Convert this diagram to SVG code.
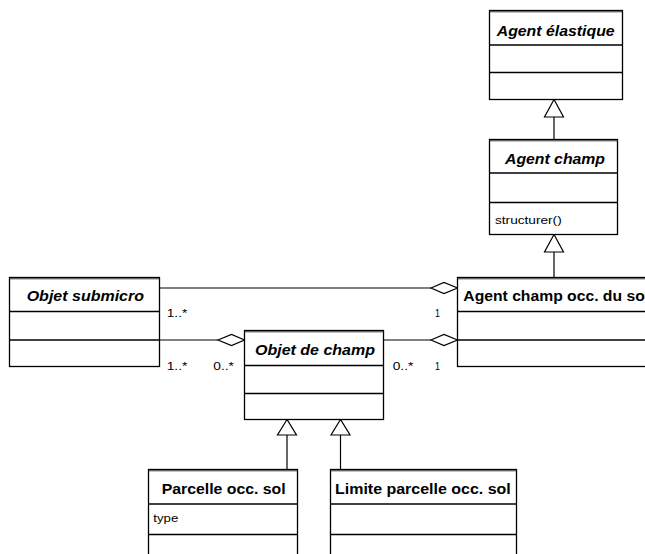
<svg xmlns="http://www.w3.org/2000/svg" width="645" height="554" viewBox="0 0 645 554">
<style>
.box{fill:#fff;stroke:#000;stroke-width:1.3}
.sep{stroke:#000;stroke-width:1.3}
.topl{stroke:#333;stroke-width:1}
.t{font-family:"Liberation Sans",Arial,sans-serif;font-size:14px;font-weight:bold;fill:#000}
.ti{font-family:"Liberation Sans",Arial,sans-serif;font-size:14px;font-weight:bold;font-style:italic;fill:#000}
.a{font-family:"Liberation Sans",Arial,sans-serif;font-size:11.5px;fill:#000}
.ln{stroke:#000;stroke-width:1.2;fill:none}
.tri{fill:#fff;stroke:#000;stroke-width:1.2}
.dia{fill:#fff;stroke:#000;stroke-width:1.2}
</style>
<rect width="645" height="554" fill="#fff"/>
<g id="connectors">
  <line class="ln" x1="554" y1="117" x2="554" y2="139.5"/>
  <polygon class="tri" points="554,99.5 544.5,117 563.5,117"/>
  <line class="ln" x1="554" y1="252" x2="554" y2="277.5"/>
  <polygon class="tri" points="554,234.5 544.5,252 563.5,252"/>
  <line class="ln" x1="287" y1="435" x2="287" y2="469.5"/>
  <polygon class="tri" points="287,419.5 277.5,435 296.5,435"/>
  <line class="ln" x1="340.5" y1="435" x2="340.5" y2="469.5"/>
  <polygon class="tri" points="340.5,419.5 331,435 350,435"/>
  <line class="ln" x1="159.5" y1="288" x2="431" y2="288"/>
  <polygon class="dia" points="431,288 444,282.5 457.5,288 444,293.5"/>
  <line class="ln" x1="159.5" y1="340" x2="218" y2="340"/>
  <polygon class="dia" points="218,340 231.5,334.5 244.5,340 231.5,345.5"/>
  <line class="ln" x1="383.5" y1="340" x2="431" y2="340"/>
  <polygon class="dia" points="431,340 444,334.5 457.5,340 444,345.5"/>
  <text class="a" x="166.7" y="317" textLength="20.6" lengthAdjust="spacingAndGlyphs">1..*</text>
  <text class="a" x="435" y="317" textLength="5" lengthAdjust="spacingAndGlyphs">1</text>
  <text class="a" x="166.7" y="370" textLength="20.6" lengthAdjust="spacingAndGlyphs">1..*</text>
  <text class="a" x="213.3" y="370" textLength="20.6" lengthAdjust="spacingAndGlyphs">0..*</text>
  <text class="a" x="392.7" y="370" textLength="20.6" lengthAdjust="spacingAndGlyphs">0..*</text>
  <text class="a" x="435" y="370" textLength="5" lengthAdjust="spacingAndGlyphs">1</text>
</g>
<g id="agent-elastique">
  <rect class="box" x="489.5" y="10.5" width="133" height="89"/>
  <line class="topl" x1="489.5" y1="11.8" x2="622.5" y2="11.8"/>
  <line class="sep" x1="489.5" y1="45" x2="622.5" y2="45"/>
  <line class="sep" x1="489.5" y1="72.5" x2="622.5" y2="72.5"/>
  <text class="ti" x="496.7" y="35.5" textLength="118" lengthAdjust="spacingAndGlyphs">Agent élastique</text>
</g>
<g id="agent-champ">
  <rect class="box" x="489.5" y="139.5" width="128" height="95"/>
  <line class="topl" x1="489.5" y1="140.8" x2="617.5" y2="140.8"/>
  <line class="sep" x1="489.5" y1="173" x2="617.5" y2="173"/>
  <line class="sep" x1="489.5" y1="202.5" x2="617.5" y2="202.5"/>
  <text class="ti" x="505" y="163.8" textLength="100" lengthAdjust="spacingAndGlyphs">Agent champ</text>
  <text class="a" x="495" y="224" textLength="66.7" lengthAdjust="spacingAndGlyphs">structurer()</text>
</g>
<g id="agent-champ-occ">
  <rect class="box" x="457.5" y="277.5" width="200" height="89"/>
  <line class="topl" x1="457.5" y1="278.8" x2="657.5" y2="278.8"/>
  <line class="sep" x1="457.5" y1="311.5" x2="657.5" y2="311.5"/>
  <line class="sep" x1="457.5" y1="340" x2="657.5" y2="340"/>
  <text class="t" x="463.3" y="301.3" textLength="185.8" lengthAdjust="spacingAndGlyphs">Agent champ occ. du sol</text>
</g>
<g id="objet-submicro">
  <rect class="box" x="9.5" y="277.5" width="150" height="89"/>
  <line class="topl" x1="9.5" y1="278.8" x2="159.5" y2="278.8"/>
  <line class="sep" x1="9.5" y1="311.5" x2="159.5" y2="311.5"/>
  <line class="sep" x1="9.5" y1="340" x2="159.5" y2="340"/>
  <text class="ti" x="26.7" y="301.3" textLength="117.3" lengthAdjust="spacingAndGlyphs">Objet submicro</text>
</g>
<g id="objet-de-champ">
  <rect class="box" x="244.5" y="330.5" width="139" height="89"/>
  <line class="topl" x1="244.5" y1="331.8" x2="383.5" y2="331.8"/>
  <line class="sep" x1="244.5" y1="365.5" x2="383.5" y2="365.5"/>
  <line class="sep" x1="244.5" y1="393.5" x2="383.5" y2="393.5"/>
  <text class="ti" x="255" y="355.3" textLength="120" lengthAdjust="spacingAndGlyphs">Objet de champ</text>
</g>
<g id="parcelle-occ-sol">
  <rect class="box" x="148.5" y="469.5" width="149" height="100"/>
  <line class="topl" x1="148.5" y1="470.8" x2="297.5" y2="470.8"/>
  <line class="sep" x1="148.5" y1="504" x2="297.5" y2="504"/>
  <line class="sep" x1="148.5" y1="534.5" x2="297.5" y2="534.5"/>
  <text class="t" x="161.7" y="493.8" textLength="124" lengthAdjust="spacingAndGlyphs">Parcelle occ. sol</text>
  <text class="a" x="153.3" y="522.3" textLength="25" lengthAdjust="spacingAndGlyphs">type</text>
</g>
<g id="limite-parcelle-occ-sol">
  <rect class="box" x="330.5" y="469.5" width="186" height="100"/>
  <line class="topl" x1="330.5" y1="470.8" x2="516.5" y2="470.8"/>
  <line class="sep" x1="330.5" y1="504" x2="516.5" y2="504"/>
  <line class="sep" x1="330.5" y1="534.5" x2="516.5" y2="534.5"/>
  <text class="t" x="335" y="493.8" textLength="175.7" lengthAdjust="spacingAndGlyphs">Limite parcelle occ. sol</text>
</g>
</svg>
